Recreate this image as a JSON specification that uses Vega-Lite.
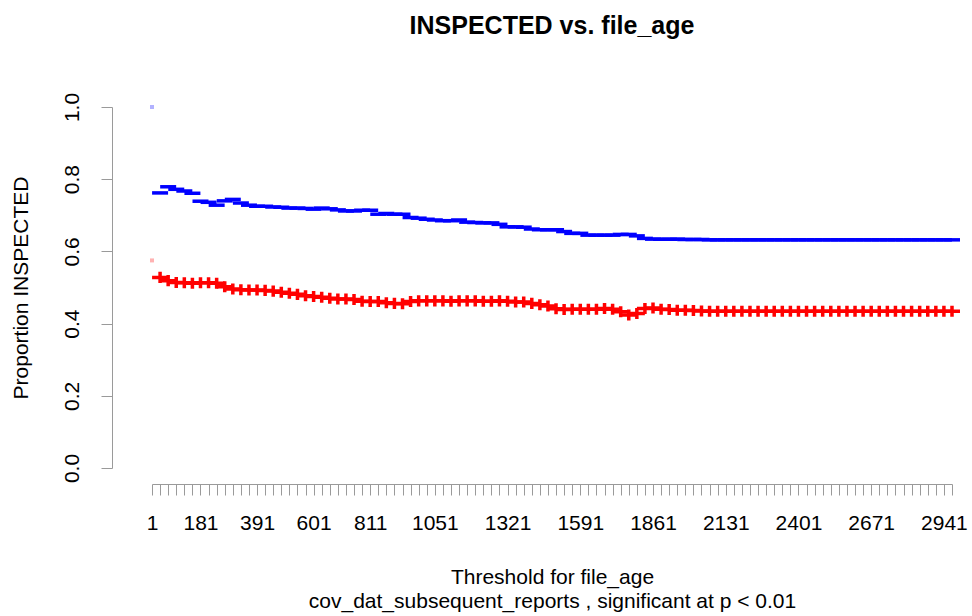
{
  "$schema": "https://vega.github.io/schema/vega-lite/v6.json",
  "width": 800,
  "height": 361,
  "autosize": {"type": "none"},
  "padding": {"left": 152, "top": 107, "right": 20, "bottom": 148},
  "background": "white",
  "config": {
    "view": {"stroke": null},
    "font": "Liberation Sans",
    "axis": {"grid": false, "labelFont": "Liberation Sans", "titleFont": "Liberation Sans", "labelColor": "black", "titleColor": "black", "titleFontWeight": "normal"}
  },
  "title": {
    "text": "INSPECTED vs. file_age",
    "font": "Liberation Sans",
    "fontSize": 25,
    "fontWeight": "bold",
    "anchor": "middle",
    "offset": 53,
    "color": "black"
  },
  "data": {
    "values": [
      {"threshold": 1, "prop_a": 1.0, "prop_b": 0.575},
      {"threshold": 31, "prop_a": 0.762, "prop_b": 0.528},
      {"threshold": 61, "prop_a": 0.779, "prop_b": 0.519},
      {"threshold": 91, "prop_a": 0.772, "prop_b": 0.514},
      {"threshold": 121, "prop_a": 0.767, "prop_b": 0.513},
      {"threshold": 151, "prop_a": 0.761, "prop_b": 0.512},
      {"threshold": 181, "prop_a": 0.739, "prop_b": 0.513},
      {"threshold": 211, "prop_a": 0.736, "prop_b": 0.513},
      {"threshold": 241, "prop_a": 0.728, "prop_b": 0.512},
      {"threshold": 271, "prop_a": 0.740, "prop_b": 0.502},
      {"threshold": 301, "prop_a": 0.744, "prop_b": 0.496},
      {"threshold": 331, "prop_a": 0.734, "prop_b": 0.494},
      {"threshold": 361, "prop_a": 0.728, "prop_b": 0.493},
      {"threshold": 391, "prop_a": 0.725, "prop_b": 0.493},
      {"threshold": 421, "prop_a": 0.725, "prop_b": 0.492},
      {"threshold": 451, "prop_a": 0.723, "prop_b": 0.490},
      {"threshold": 481, "prop_a": 0.722, "prop_b": 0.487},
      {"threshold": 511, "prop_a": 0.720, "prop_b": 0.484},
      {"threshold": 541, "prop_a": 0.720, "prop_b": 0.481},
      {"threshold": 571, "prop_a": 0.719, "prop_b": 0.477},
      {"threshold": 601, "prop_a": 0.717, "prop_b": 0.475},
      {"threshold": 631, "prop_a": 0.720, "prop_b": 0.473},
      {"threshold": 661, "prop_a": 0.718, "prop_b": 0.470},
      {"threshold": 691, "prop_a": 0.715, "prop_b": 0.468},
      {"threshold": 721, "prop_a": 0.712, "prop_b": 0.468},
      {"threshold": 751, "prop_a": 0.712, "prop_b": 0.467},
      {"threshold": 781, "prop_a": 0.714, "prop_b": 0.462},
      {"threshold": 811, "prop_a": 0.714, "prop_b": 0.461},
      {"threshold": 841, "prop_a": 0.703, "prop_b": 0.461},
      {"threshold": 871, "prop_a": 0.705, "prop_b": 0.458},
      {"threshold": 901, "prop_a": 0.703, "prop_b": 0.456},
      {"threshold": 931, "prop_a": 0.703, "prop_b": 0.455},
      {"threshold": 961, "prop_a": 0.694, "prop_b": 0.461},
      {"threshold": 991, "prop_a": 0.692, "prop_b": 0.463},
      {"threshold": 1021, "prop_a": 0.689, "prop_b": 0.463},
      {"threshold": 1051, "prop_a": 0.687, "prop_b": 0.463},
      {"threshold": 1081, "prop_a": 0.685, "prop_b": 0.463},
      {"threshold": 1111, "prop_a": 0.685, "prop_b": 0.462},
      {"threshold": 1141, "prop_a": 0.687, "prop_b": 0.463},
      {"threshold": 1171, "prop_a": 0.681, "prop_b": 0.463},
      {"threshold": 1201, "prop_a": 0.680, "prop_b": 0.463},
      {"threshold": 1231, "prop_a": 0.679, "prop_b": 0.462},
      {"threshold": 1261, "prop_a": 0.679, "prop_b": 0.462},
      {"threshold": 1291, "prop_a": 0.675, "prop_b": 0.463},
      {"threshold": 1321, "prop_a": 0.668, "prop_b": 0.462},
      {"threshold": 1351, "prop_a": 0.668, "prop_b": 0.460},
      {"threshold": 1381, "prop_a": 0.667, "prop_b": 0.460},
      {"threshold": 1411, "prop_a": 0.662, "prop_b": 0.456},
      {"threshold": 1441, "prop_a": 0.660, "prop_b": 0.452},
      {"threshold": 1471, "prop_a": 0.660, "prop_b": 0.449},
      {"threshold": 1501, "prop_a": 0.660, "prop_b": 0.441},
      {"threshold": 1531, "prop_a": 0.655, "prop_b": 0.439},
      {"threshold": 1561, "prop_a": 0.650, "prop_b": 0.440},
      {"threshold": 1591, "prop_a": 0.650, "prop_b": 0.440},
      {"threshold": 1621, "prop_a": 0.645, "prop_b": 0.440},
      {"threshold": 1651, "prop_a": 0.645, "prop_b": 0.440},
      {"threshold": 1681, "prop_a": 0.645, "prop_b": 0.442},
      {"threshold": 1711, "prop_a": 0.645, "prop_b": 0.440},
      {"threshold": 1741, "prop_a": 0.647, "prop_b": 0.433},
      {"threshold": 1771, "prop_a": 0.647, "prop_b": 0.424},
      {"threshold": 1801, "prop_a": 0.643, "prop_b": 0.428},
      {"threshold": 1831, "prop_a": 0.636, "prop_b": 0.442},
      {"threshold": 1861, "prop_a": 0.634, "prop_b": 0.443},
      {"threshold": 1891, "prop_a": 0.634, "prop_b": 0.440},
      {"threshold": 1921, "prop_a": 0.634, "prop_b": 0.439},
      {"threshold": 1951, "prop_a": 0.634, "prop_b": 0.437},
      {"threshold": 1981, "prop_a": 0.633, "prop_b": 0.437},
      {"threshold": 2011, "prop_a": 0.633, "prop_b": 0.436},
      {"threshold": 2041, "prop_a": 0.633, "prop_b": 0.435},
      {"threshold": 2071, "prop_a": 0.632, "prop_b": 0.434},
      {"threshold": 2101, "prop_a": 0.632, "prop_b": 0.434},
      {"threshold": 2131, "prop_a": 0.632, "prop_b": 0.434},
      {"threshold": 2161, "prop_a": 0.632, "prop_b": 0.434},
      {"threshold": 2191, "prop_a": 0.632, "prop_b": 0.434},
      {"threshold": 2221, "prop_a": 0.632, "prop_b": 0.434},
      {"threshold": 2251, "prop_a": 0.632, "prop_b": 0.434},
      {"threshold": 2281, "prop_a": 0.632, "prop_b": 0.434},
      {"threshold": 2311, "prop_a": 0.632, "prop_b": 0.434},
      {"threshold": 2341, "prop_a": 0.632, "prop_b": 0.434},
      {"threshold": 2371, "prop_a": 0.632, "prop_b": 0.434},
      {"threshold": 2401, "prop_a": 0.632, "prop_b": 0.434},
      {"threshold": 2431, "prop_a": 0.632, "prop_b": 0.434},
      {"threshold": 2461, "prop_a": 0.632, "prop_b": 0.434},
      {"threshold": 2491, "prop_a": 0.632, "prop_b": 0.434},
      {"threshold": 2521, "prop_a": 0.632, "prop_b": 0.434},
      {"threshold": 2551, "prop_a": 0.632, "prop_b": 0.434},
      {"threshold": 2581, "prop_a": 0.632, "prop_b": 0.434},
      {"threshold": 2611, "prop_a": 0.632, "prop_b": 0.434},
      {"threshold": 2641, "prop_a": 0.632, "prop_b": 0.434},
      {"threshold": 2671, "prop_a": 0.632, "prop_b": 0.434},
      {"threshold": 2701, "prop_a": 0.632, "prop_b": 0.434},
      {"threshold": 2731, "prop_a": 0.632, "prop_b": 0.434},
      {"threshold": 2761, "prop_a": 0.632, "prop_b": 0.434},
      {"threshold": 2791, "prop_a": 0.632, "prop_b": 0.434},
      {"threshold": 2821, "prop_a": 0.632, "prop_b": 0.434},
      {"threshold": 2851, "prop_a": 0.632, "prop_b": 0.434},
      {"threshold": 2881, "prop_a": 0.632, "prop_b": 0.434},
      {"threshold": 2911, "prop_a": 0.632, "prop_b": 0.434},
      {"threshold": 2941, "prop_a": 0.632, "prop_b": 0.434},
      {"threshold": 2971, "prop_a": 0.632, "prop_b": 0.434}
    ]
  },
  "transform": [{"fold": ["prop_a", "prop_b"], "as": ["series", "proportion"]}],
  "encoding": {
    "x": {
      "field": "threshold",
      "type": "ordinal",
      "scale": {"type": "point", "padding": 0},
      "axis": {
        "orient": "bottom",
        "offset": 16,
        "tickSize": 11,
        "tickColor": "#9a9a9a",
        "domainColor": "#9a9a9a",
        "tickWidth": 1,
        "domainWidth": 1,
        "labelAngle": 0,
        "labelFontSize": 21,
        "labelBaseline": "middle",
        "labelPadding": 28,
        "labelOverlap": false,
        "labelExpr": "indexof(['1','181','391','601','811','1051','1321','1591','1861','2131','2401','2671','2941'], datum.label) >= 0 ? datum.label : ''",
        "title": ["Threshold for file_age", "cov_dat_subsequent_reports , significant at p < 0.01"],
        "titleFontSize": 21,
        "titleLineHeight": 24,
        "titlePadding": 33
      }
    },
    "y": {
      "field": "proportion",
      "type": "quantitative",
      "scale": {"domain": [0, 1], "nice": false, "zero": false},
      "axis": {
        "orient": "left",
        "offset": 40,
        "values": [0, 0.2, 0.4, 0.6, 0.8, 1.0],
        "format": ".1f",
        "tickSize": 11,
        "tickColor": "#9a9a9a",
        "domainColor": "#9a9a9a",
        "labelAngle": -90,
        "labelAlign": "center",
        "labelBaseline": "middle",
        "labelPadding": 29,
        "labelFontSize": 21,
        "title": "Proportion INSPECTED",
        "titleFontSize": 21,
        "titlePadding": 30
      }
    }
  },
  "layer": [
    {
      "transform": [{"filter": "datum.threshold > 1 && datum.series == 'prop_a'"}],
      "mark": {"type": "tick", "orient": "horizontal", "color": "#0000FF", "size": 16, "thickness": 3.5, "opacity": 1}
    },
    {
      "transform": [{"filter": "datum.threshold > 1 && datum.series == 'prop_b'"}],
      "mark": {"type": "point", "shape": "M-1,0H1M0,-0.69V0.69", "filled": false, "stroke": "#FF0000", "strokeWidth": 3.5, "size": 256, "opacity": 1}
    },
    {
      "transform": [{"filter": "datum.threshold == 1 && datum.series == 'prop_a'"}],
      "mark": {"type": "point", "shape": "square", "filled": true, "color": "#0000FF", "opacity": 0.3, "size": 16}
    },
    {
      "transform": [{"filter": "datum.threshold == 1 && datum.series == 'prop_b'"}],
      "mark": {"type": "point", "shape": "square", "filled": true, "color": "#FF0000", "opacity": 0.3, "size": 16}
    }
  ]
}
